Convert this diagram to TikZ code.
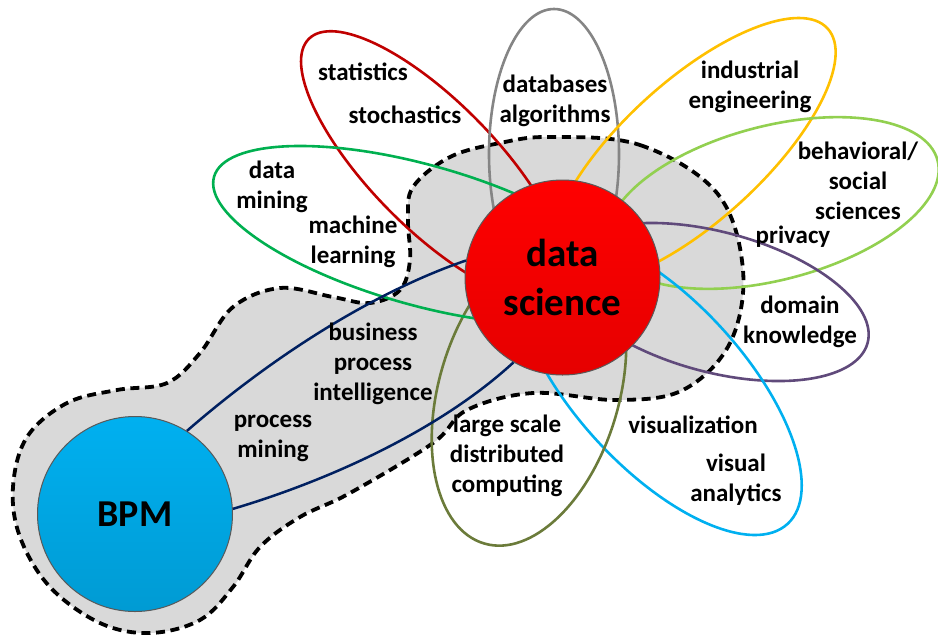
\documentclass[tikz,border=0pt]{standalone}
\usepackage{fontspec}
\setmainfont{Carlito}
\usetikzlibrary{math}

\definecolor{blobgray}{HTML}{D9D9D9}
\definecolor{petalred}{HTML}{C00000}
\definecolor{petalgrey}{HTML}{858585}
\definecolor{petalyellow}{HTML}{FFC000}
\definecolor{petallime}{HTML}{92D050}
\definecolor{petalpurple}{HTML}{604A7B}
\definecolor{petalblue}{HTML}{00B0F0}
\definecolor{petalolive}{HTML}{6B7B3A}
\definecolor{petalgreen}{HTML}{00B050}
\definecolor{linknavy}{HTML}{002060}

\begin{document}
\begin{tikzpicture}[x=0.5pt, y=-0.5pt,
  lbl/.style={font=\bfseries\fontsize{12.5}{15}\selectfont, align=center, inner sep=0pt},
  petal/.style={line width=1.3pt},
  link/.style={draw=linknavy, line width=1.25pt},
  hub/.style={circle, draw=black!65, line width=0.5pt, minimum size=97.5pt, inner sep=0pt, align=center}]
  \tikzmath{\dx = 562.5; \dy = 277.5;}
  \useasboundingbox (0,0) rectangle (938,639);

  % grey area round bpm and data science
  \draw[fill=blobgray, line width=1.9pt, dash pattern=on 4.5pt off 2.8pt]
    plot[smooth cycle, tension=0.6] coordinates {
      (550,137) (640,145) (717,193) (743,270) (730,343) (683,390) (617,400)
      (533,393) (467,410) (433,443) (350,493) (300,517) (260,547) (233,587)
      (200,620) (150,633) (100,623) (50,587) (20,537) (13,487) (27,437)
      (67,403) (117,390) (167,383) (200,353) (233,307) (280,288) (333,297)
      (370,303) (400,290) (410,260) (408,220) (413,187) (450,157) (500,143)};

  % petals
  \draw[petal, draw=petalred, shift={(433,165)}, rotate=-45.5] (0,0) ellipse [x radius=177, y radius=63];
  \draw[petal, draw=petalgrey, shift={(554,154)}] (0,0) ellipse [x radius=65, y radius=145];
  \draw[petal, draw=petalyellow, shift={(693,151)}, rotate=42.3] (0,0) ellipse [x radius=182, y radius=70];
  \draw[petal, draw=petallime, shift={(773,203)}, rotate=14.5] (0,0) ellipse [x radius=170, y radius=77];
  \draw[petal, draw=petalpurple, shift={(715,302)}, rotate=-15] (0,0) ellipse [x radius=158, y radius=70];
  \draw[petal, draw=petalblue, shift={(659,384)}, rotate=-47.4] (0,0) ellipse [x radius=190, y radius=84];
  \draw[petal, draw=petalolive, shift={(529,392)}, rotate=-106.5] (0,0) ellipse [x radius=158, y radius=90];
  \draw[petal, draw=petalgreen, shift={(421,235)}, rotate=-15.7] (0,0) ellipse [x radius=215, y radius=70];

  % hubs
  \node[hub, top color=red, bottom color=red!90!black,
    font=\bfseries\fontsize{19.5}{24.5}\selectfont] (ds) at (\dx,\dy) {data\\science};
  \node[hub, top color=petalblue, bottom color=petalblue!88!black,
    font=\bfseries\fontsize{19}{23}\selectfont] (bpm) at (135,514) {BPM};

  % links
  \draw[link] (bpm.58) .. controls (280,350) and (380,290) .. (ds.170);
  \draw[link] (bpm.3) .. controls (330,480) and (440,430) .. (ds.-120.6);

  % labels
  \node[lbl] (stat) at (363,72) {statistics};
  \node[lbl] (stoch) at (405,115) {stochastics};
  \node[lbl] (db) at (555,101) {databases\\algorithms};
  \node[lbl] (ie) at (750,87) {industrial\\engineering};
  \node[lbl] (soc) at (858,181) {behavioral/\\social\\sciences};
  \node[lbl] (priv) at (793,237) {privacy};
  \node[lbl] (dom) at (800,322) {domain\\knowledge};
  \node[lbl] (vis) at (693,425) {visualization};
  \node[lbl] (va) at (736,480) {visual\\analytics};
  \node[lbl] (dist) at (507,456) {large scale\\distributed\\computing};
  \node[lbl] (pm) at (273,438) {process\\mining};
  \node[lbl] (bpi) at (373,364) {business\\process\\intelligence};
  \node[lbl] (dm) at (272,187) {data\\mining};
  \node[lbl] (ml) at (353,242) {machine\\learning};
\end{tikzpicture}
\end{document}
